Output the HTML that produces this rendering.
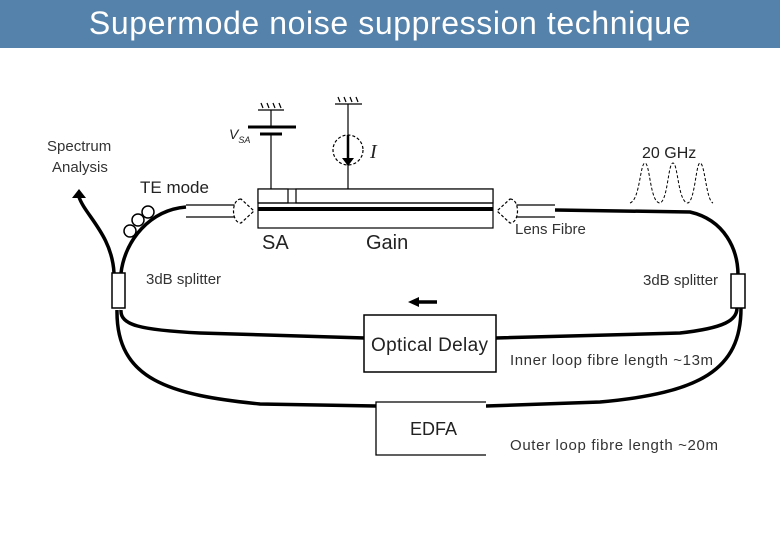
<!DOCTYPE html>
<html><head><meta charset="utf-8"><style>
body{margin:0;width:780px;height:540px;background:#fff;overflow:hidden;font-family:"Liberation Sans",sans-serif}
.h{position:absolute;left:0;top:0;width:780px;height:48px;background:#5482ab;color:#fff;font-size:32px;text-align:center;line-height:47px;letter-spacing:0.6px}
svg{position:absolute;left:0;top:0}
</style></head><body>
<div class="h">Supermode noise suppression technique</div>
<svg width="780" height="540" font-family="Liberation Sans, sans-serif" fill="#222">
<g stroke="#000" fill="none" stroke-width="3.5">
<path d="M186 207 C150 210 125 240 121 273"/>
<path d="M114 273 C112 235 85 215 79 197"/>
<path d="M555 210 L690 212 C725 220 738 250 738 275"/>
<path d="M121 310 C120 325 140 330 200 333 L365 338"/>
<path d="M496 338 L680 333 C725 328 737 320 737 308"/>
<path d="M117 310 C116 380 170 395 260 404 L376 406"/>
<path d="M486 406 L600 402 C700 393 741 370 741 308"/>
<path d="M437 302 L418 302"/>
</g>
<polygon points="72,198 86,198 79,189" fill="#000"/>
<polygon points="408,302 419,297 419,307" fill="#000"/>
<g stroke="#000" fill="#fff" stroke-width="1.5">
<circle cx="148" cy="212" r="6"/><circle cx="138" cy="220" r="6"/><circle cx="130" cy="231" r="6"/>
<rect x="112" y="273" width="13" height="35"/>
<rect x="731" y="274" width="14" height="34"/>
<rect x="364" y="315" width="132" height="57"/>
</g>
<path d="M486 402 L376 402 L376 455 L486 455" stroke="#000" fill="#fff" stroke-width="1.3"/>
<g stroke="#000" fill="none" stroke-width="1.2">
<rect x="258" y="189" width="235" height="39" fill="#fff"/>
<rect x="258" y="189" width="30" height="14" fill="#fff"/>
<rect x="296" y="189" width="197" height="14" fill="#fff"/>
<line x1="258" y1="203" x2="493" y2="203"/>
<line x1="258" y1="209" x2="493" y2="209" stroke-width="4"/>
<line x1="271" y1="110" x2="271" y2="127"/><line x1="271" y1="134" x2="271" y2="189"/>
<line x1="258" y1="110" x2="284" y2="110"/>
<path d="M263 108 l-2 -5 M269 108 l-2 -5 M275 108 l-2 -5 M281 108 l-2 -5"/>
<line x1="248" y1="127" x2="296" y2="127" stroke-width="3"/>
<line x1="260" y1="134" x2="282" y2="134" stroke-width="3"/>
<line x1="335" y1="104" x2="362" y2="104"/>
<path d="M340 102 l-2 -5 M346 102 l-2 -5 M352 102 l-2 -5 M358 102 l-2 -5"/>
<line x1="348" y1="104" x2="348" y2="189"/>
<circle cx="348" cy="150" r="15" stroke-dasharray="3,2"/>
<line x1="348" y1="135" x2="348" y2="160" stroke-width="2.5"/>
<path d="M186 205 L240 205 M186 217 L240 217 M555 205 L505 205 M555 217 L505 217"/>
<path d="M241 199 C231 199 231 223 241 223 L254 211 Z" fill="#fff" stroke-dasharray="3,2"/>
<path d="M510 199 C520 199 520 223 510 223 L497 211 Z" fill="#fff" stroke-dasharray="3,2"/>
<path d="M630 203 C640 200 640 163 645 163 C650 163 650 203 660 203 C668 200 668 163 673 163 C678 163 678 203 688 203 C695 200 696 163 700 163 C705 163 706 200 713 203" stroke-dasharray="3,2" stroke-width="1"/>
</g>
<polygon points="342,158 354,158 348,166" fill="#000"/>
<g font-size="15" fill="#333">
<text x="47" y="151">Spectrum</text><text x="52" y="172">Analysis</text>
<text x="146" y="284">3dB splitter</text>
<text x="643" y="285">3dB splitter</text>
<text x="515" y="234">Lens Fibre</text>
<text x="510" y="365" textLength="203">Inner loop fibre length ~13m</text>
<text x="510" y="450" textLength="208">Outer loop fibre length ~20m</text>
</g>
<text x="140" y="193" font-size="17">TE mode</text>
<text x="642" y="158" font-size="16">20 GHz</text>
<text x="262" y="249" font-size="20">SA</text>
<text x="366" y="249" font-size="20">Gain</text>
<text x="371" y="351" font-size="19" textLength="117">Optical Delay</text>
<text x="410" y="435" font-size="18">EDFA</text>
<text x="370" y="158" font-size="20" font-style="italic" font-family="Liberation Serif, serif">I</text>
<text x="229" y="139" font-size="14" font-style="italic">V<tspan font-size="9" dy="4">SA</tspan></text>
</svg>
</body></html>
